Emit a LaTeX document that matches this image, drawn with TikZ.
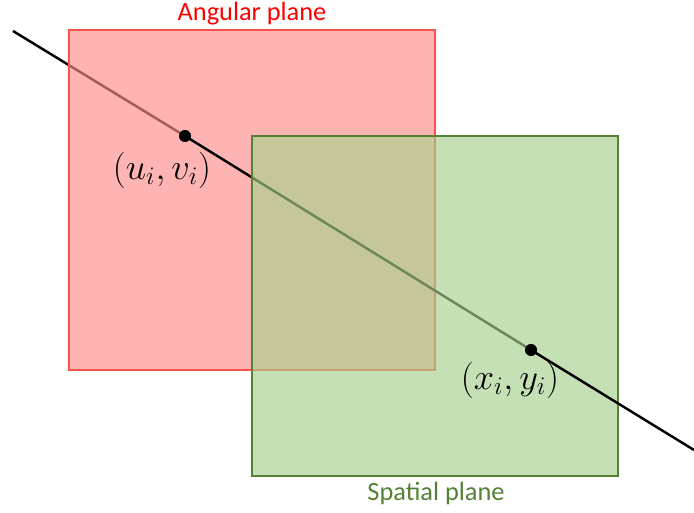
\documentclass[tikz,border=0pt]{standalone}
\usepackage{fontspec}
\setsansfont{Carlito}
\usepackage{tikz}
\usetikzlibrary{calc}

\definecolor{angred}{RGB}{255,140,140}
\definecolor{angedge}{RGB}{255,80,80}
\definecolor{angtext}{RGB}{255,0,0}
\definecolor{spagreen}{RGB}{166,208,140}
\definecolor{spaedge}{RGB}{84,130,53}

\begin{document}
\begin{tikzpicture}[
  font=\sffamily,
  ray/.style={line width=1.4pt, black},
  angplane/.style={fill=angred, fill opacity=0.65, draw=angedge, draw opacity=1, line width=1.1pt},
  spaplane/.style={fill=spagreen, fill opacity=0.65, draw=spaedge, draw opacity=1, line width=1.1pt},
  pt/.style={circle, fill=black, inner sep=0pt, minimum size=0.24cm},
  coordlabel/.style={font=\fontsize{20.5}{22}\selectfont, inner sep=0pt},
  planelabel/.style={font=\sffamily\fontsize{15}{17}\selectfont, inner sep=0pt}
]
  \useasboundingbox (0,0) rectangle (13.88,10.24);

  % Ray ends and the two points it passes through
  \coordinate (start) at (0.26, 9.62);
  \coordinate (stop)  at (13.88, 1.24);
  \node[pt] (uv) at (3.70, 7.52) {};
  \node[pt] (xy) at (10.62, 3.24) {};

  % Part of the ray behind the angular plane
  \draw[ray] (start) -- (uv.center);

  % Angular plane
  \draw[angplane] (1.38, 9.64) rectangle (8.70, 2.84);

  % Between the two planes
  \draw[ray] (uv.center) -- (xy.center);

  % Spatial plane
  \draw[spaplane] (5.04, 7.52) rectangle (12.36, 0.72);

  % In front of the spatial plane
  \draw[ray] (xy.center) -- (stop);

  % Points again, on top
  \node[pt] at (uv) {};
  \node[pt] at (xy) {};

  % Labels
  \node[coordlabel] (uvlabel) at (3.24, 6.84) {$(u_i,v_i)$};
  \node[coordlabel] (xylabel) at (10.20, 2.64) {$(x_i,y_i)$};
  \node[planelabel, text=angtext] (anglabel) at (5.04, 9.96) {Angular plane};
  \node[planelabel, text=spaedge] (spalabel) at (8.72, 0.38) {Spatial plane};

\end{tikzpicture}
\end{document}
